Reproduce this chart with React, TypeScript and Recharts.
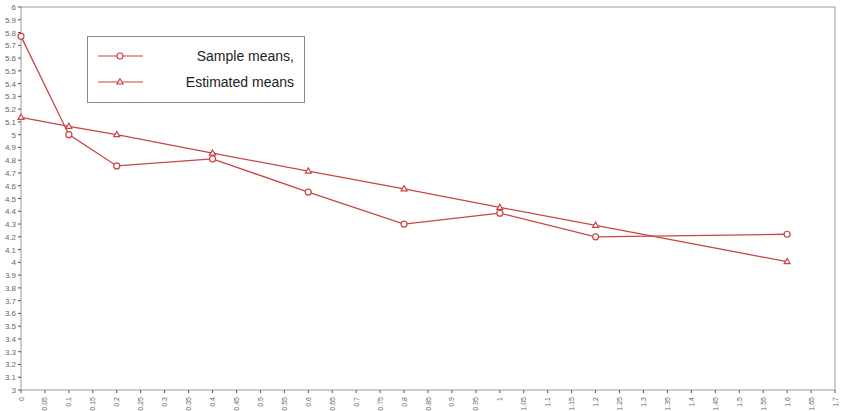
import React from 'react';
import { LineChart, Line, XAxis, YAxis, ReferenceLine } from 'recharts';

const xValues = [0, 0.1, 0.2, 0.4, 0.6, 0.8, 1.0, 1.2, 1.6];
const sampleMeans = [5.77, 5.0, 4.755, 4.81, 4.55, 4.3, 4.385, 4.2, 4.22];
const estimatedMeans = [5.135, 5.065, 5.0, 4.855, 4.715, 4.575, 4.43, 4.29, 4.005];

const xTicks = [
  0, 0.05, 0.1, 0.15, 0.2, 0.25, 0.3, 0.35, 0.4, 0.45, 0.5, 0.55, 0.6, 0.65, 0.7, 0.75, 0.8, 0.85,
  0.9, 0.95, 1, 1.05, 1.1, 1.15, 1.2, 1.25, 1.3, 1.35, 1.4, 1.45, 1.5, 1.55, 1.6, 1.65, 1.7,
];
const yTicks = [
  3, 3.1, 3.2, 3.3, 3.4, 3.5, 3.6, 3.7, 3.8, 3.9, 4, 4.1, 4.2, 4.3, 4.4, 4.5, 4.6, 4.7, 4.8, 4.9,
  5, 5.1, 5.2, 5.3, 5.4, 5.5, 5.6, 5.7, 5.8, 5.9, 6,
];

const RED = '#c84545';
const AXIS = '#9a9a9a';
const LABEL = '#666';
const FONT = '"Liberation Sans", Arial, sans-serif';

const data = xValues.map((x, i) => ({ x, sample: sampleMeans[i], estimated: estimatedMeans[i] }));

const fmt = (v: number) => String(Math.round(v * 100) / 100);

const XTick = (props: any) => {
  const { x, y, payload } = props;
  return (
    <text
      x={0}
      y={0}
      transform={`translate(${x + 2.5},${y + 2}) rotate(-90)`}
      textAnchor="end"
      fontSize={7}
      fill={LABEL}
      fontFamily={FONT}
    >
      {fmt(payload.value)}
    </text>
  );
};

const YTick = (props: any) => {
  const { x, y, payload } = props;
  return (
    <text x={x} y={y + 3} textAnchor="end" fontSize={8} fill={LABEL} fontFamily={FONT}>
      {fmt(payload.value)}
    </text>
  );
};

const CircleDot = (props: any) => {
  const { cx, cy } = props;
  if (cx == null || cy == null) return null;
  return <circle cx={cx} cy={cy} r={3} fill="#fff" stroke={RED} strokeWidth={1.2} />;
};

const TriangleDot = (props: any) => {
  const { cx, cy } = props;
  if (cx == null || cy == null) return null;
  return (
    <path
      d={`M${cx},${cy - 3.2} L${cx + 3},${cy + 2} L${cx - 3},${cy + 2} Z`}
      fill="#fff"
      stroke={RED}
      strokeWidth={1.2}
    />
  );
};

const LegendBox = () => (
  <div
    style={{
      position: 'absolute',
      left: 87,
      top: 36,
      width: 216,
      height: 65,
      border: '1px solid #888',
      background: '#fff',
    }}
  >
    <svg width={216} height={65} style={{ position: 'absolute', left: 0, top: 0 }}>
      <line x1={10} y1={19} x2={55} y2={19} stroke={RED} strokeWidth={1.2} />
      <CircleDot cx={32} cy={19} />
      <line x1={10} y1={45} x2={55} y2={45} stroke={RED} strokeWidth={1.2} />
      <TriangleDot cx={32} cy={45} />
      <text x={206} y={24} textAnchor="end" fontSize={14} fill="#222" fontFamily={FONT}>
        Sample means,
      </text>
      <text x={206} y={50} textAnchor="end" fontSize={14} fill="#222" fontFamily={FONT}>
        Estimated means
      </text>
    </svg>
  </div>
);

export default function App() {
  return (
    <div style={{ position: 'absolute', left: 0, top: 0, width: 843, height: 411, background: '#fff' }}>
      <LineChart width={843} height={411} data={data} margin={{ top: 7, right: 8, bottom: 0, left: 0 }}>
        <XAxis
          dataKey="x"
          type="number"
          domain={[0, 1.7]}
          ticks={xTicks}
          interval={0}
          tick={<XTick />}
          tickSize={3}
          height={21}
          stroke={AXIS}
          tickLine={{ stroke: '#555' }}
        />
        <YAxis
          type="number"
          domain={[3, 6]}
          ticks={yTicks}
          interval={0}
          tick={<YTick />}
          tickSize={3}
          width={21}
          stroke={AXIS}
          tickLine={{ stroke: '#555' }}
        />
        <ReferenceLine y={6} stroke={AXIS} strokeWidth={1} />
        <ReferenceLine x={1.7} stroke={AXIS} strokeWidth={1} />
        <Line
          dataKey="sample"
          name="Sample means,"
          stroke={RED}
          strokeWidth={1.3}
          dot={<CircleDot />}
          activeDot={false}
          isAnimationActive={false}
        />
        <Line
          dataKey="estimated"
          name="Estimated means"
          stroke={RED}
          strokeWidth={1.3}
          dot={<TriangleDot />}
          activeDot={false}
          isAnimationActive={false}
        />
      </LineChart>
      <LegendBox />
    </div>
  );
}
